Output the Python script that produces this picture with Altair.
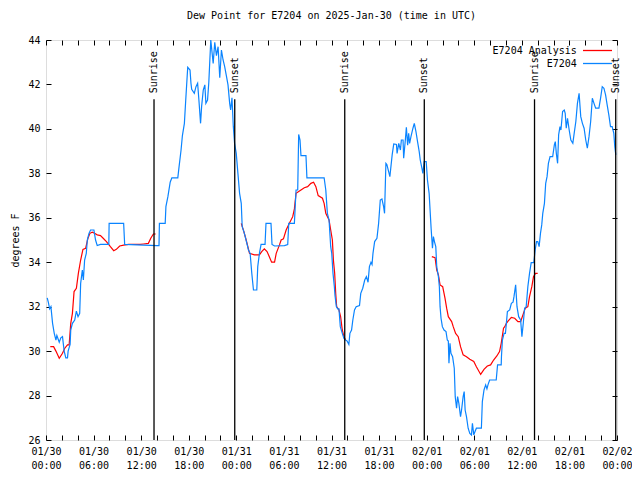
import json
import altair as alt
import pandas as pd

# ---------------- data (hours after 2025-01-30 00:00 UTC, dew point in F) ----------------
blue_hours = [0.15, 0.29, 0.46, 0.62, 0.83, 1.04, 1.25, 1.37, 1.67, 1.87, 2.08, 2.29, 2.5, 2.71, 2.79,
              3.04, 3.12, 3.33, 3.62, 3.83, 4.04, 4.25, 4.37, 4.58, 4.71, 4.87, 5.08, 5.21, 5.42, 5.62,
              6.04, 6.25, 6.46, 6.87, 7.92, 7.96, 9.79, 9.92, 13.96, 14.25, 14.3, 15.03, 15.12, 15.37,
              15.66, 15.87, 16.62, 16.78, 17.03, 17.2, 17.45, 17.62, 17.87, 18.16, 18.28, 18.37, 18.7,
              18.91, 19.12, 19.28, 19.49, 19.62, 19.83, 20.03, 20.16, 20.37, 20.53, 20.66, 20.78, 20.95,
              21.08, 21.28, 21.49, 21.7, 21.91, 22.12, 22.33, 22.53, 22.74, 22.95, 23.16, 23.28, 23.45,
              23.62, 23.78, 23.99, 24.2, 24.41, 24.62, 24.74, 24.95, 25.12, 25.33, 25.53, 25.74, 25.95,
              26.16, 26.58, 26.7, 26.91, 27.12, 27.62, 27.74, 28.37, 28.5, 28.82, 30.07, 30.48, 30.61,
              31.32, 31.53, 31.74, 31.86, 32.03, 32.15, 32.78, 32.9, 35.07, 35.28, 35.48, 35.69, 35.9,
              36.03, 36.19, 36.36, 36.44, 36.61, 36.78, 36.94, 37.11, 37.36, 37.57, 37.78, 37.98, 38.19,
              38.32, 38.53, 38.69, 38.9, 39.11, 39.53, 39.69, 39.94, 40.19, 40.4, 40.61, 40.78, 40.98,
              41.11, 41.23, 41.44, 41.73, 41.94, 42.15, 42.36, 42.57, 42.69, 42.86, 42.98, 43.19, 43.36,
              43.65, 43.85, 44.19, 44.27, 44.48, 44.69, 44.81, 45.02, 45.1, 45.31, 45.44, 45.6, 45.73,
              45.85, 46.02, 46.27, 46.44, 46.65, 46.85, 47.06, 47.19, 47.4, 47.52, 47.69, 47.94, 48.1,
              48.31, 48.44, 48.56, 48.73, 48.85, 48.98, 49.15, 49.27, 49.48, 49.6, 49.69, 49.81, 49.98,
              50.19, 50.44, 50.6, 50.73, 50.81, 50.94, 51.06, 51.27, 51.48, 51.6, 51.77, 51.9, 52.06,
              52.27, 52.4, 52.6, 52.73, 52.85, 53.02, 53.23, 53.44, 53.65, 53.77, 53.94, 54.1, 54.27,
              54.9, 55.02, 55.23, 55.44, 55.6, 55.73, 55.94, 56.77, 56.94, 57.4, 57.43, 57.55, 57.76,
              57.93, 58.05, 58.18, 58.47, 58.68, 58.89, 59.01, 59.22, 59.39, 59.6, 59.85, 60.01, 60.18,
              60.35, 60.55, 60.76, 60.97, 61.18, 61.51, 61.68, 61.85, 62.01, 62.18, 62.35, 62.51, 62.64,
              62.85, 63.01, 63.18, 63.35, 63.56, 63.89, 64.1, 64.22, 64.35, 64.51, 64.64, 64.81, 64.93,
              65.14, 65.35, 65.47, 65.6, 65.76, 65.97, 66.18, 66.43, 66.6, 66.81, 67.01, 67.22, 67.43,
              67.64, 67.85, 68.06, 68.26, 68.47, 68.68, 68.89, 69.1, 69.31, 69.72, 69.93, 70.14, 70.35,
              70.56, 70.76, 70.97, 71.18, 71.39, 71.6, 71.72, 71.85]
blue_dewpt = [32.4, 32.2, 31.9, 32.0, 31.25, 30.8, 30.5, 30.7, 30.4, 30.6, 30.65, 30.0, 29.7, 29.7, 30.0,
              30.3, 30.95, 31.25, 31.4, 31.8, 31.55, 31.7, 33.05, 33.65, 33.2, 34.1, 34.4, 35.0, 35.3, 35.45,
              35.45, 35.0, 34.75, 34.8, 34.8, 35.75, 35.75, 34.8, 34.75, 34.75, 35.75, 35.75, 36.5, 36.95,
              37.6, 37.8, 37.8, 38.3, 39.05, 39.7, 40.25, 41.3, 42.77, 42.65, 42.05, 41.78, 41.6,
              41.9, 42.05, 41.3, 40.25, 41.0, 41.75, 41.98, 41.15, 41.3, 42.1, 43.1, 44.0, 43.4,
              42.95, 43.9, 43.3, 43.7, 42.3, 43.55, 43.1, 42.8, 42.4, 41.98, 41.15, 40.85, 41.4,
              40.1, 39.35, 38.9, 38.0, 37.1, 36.65, 35.6, 35.38, 35.15, 34.85, 34.55, 34.4, 33.5,
              32.75, 32.75, 33.8, 34.4, 34.8, 34.8, 35.75, 35.75, 34.8, 34.73, 34.75, 34.8, 35.75,
              35.75, 37.25, 37.25, 39.75, 39.5, 38.8, 38.8, 37.8, 37.8, 37.25, 36.2, 35.9, 34.7,
              34.4, 33.5, 32.9, 32.5, 32.0, 31.9, 31.9, 31.1, 30.8, 30.57, 30.5, 30.45, 30.3,
              30.8, 30.95, 31.4, 31.85, 32.0, 32.05, 32.6, 32.83, 33.2, 33.35, 33.1, 33.8, 34.0,
              33.9, 34.4, 34.93, 35.08, 35.75, 36.8, 36.85, 36.5, 36.2, 38.45, 38.4, 38.1, 37.85,
              38.83, 39.32, 39.3, 38.9, 39.35, 39.05, 39.5, 39.5, 38.68, 39.5, 40.07, 39.27, 39.8,
              39.35, 39.65, 40.03, 40.25, 39.88, 39.43, 38.98, 38.6, 38.23, 38.0, 38.53, 38.53, 37.7,
              37.1, 36.28, 35.53, 34.63, 35.15, 34.93, 34.7, 33.8, 33.35, 32.9, 32.0, 31.48, 31.1,
              30.95, 30.88, 30.5, 30.45, 29.45, 30.35, 29.9, 29.75, 29.23, 27.95, 27.43, 27.95, 27.65,
              27.05, 27.35, 27.95, 28.18, 27.35, 27.05, 26.53, 26.3, 26.23, 26.75, 26.23, 26.38, 26.53,
              26.53, 27.73, 28.25, 28.48, 28.3, 28.48, 28.7, 28.7, 29.38, 29.38, 29.75, 30.5, 30.8,
              30.8, 31.25, 31.78, 31.85, 32.15, 32.2, 32.45, 32.98, 32.0, 31.55, 31.4, 30.65, 31.25,
              31.93, 32.0, 32.9, 33.5, 33.98, 33.98, 34.55, 34.93, 34.93, 34.7, 35.3, 35.68, 36.2,
              36.65, 37.55, 37.85, 38.45, 38.75, 38.75, 39.28, 39.43, 38.9, 38.45, 39.73, 40.1, 39.95,
              40.78, 40.85, 40.7, 40.03, 40.48, 39.95, 39.5, 39.35, 39.8, 40.33, 41.15, 41.6, 40.55,
              40.25, 40.03, 39.5, 39.13, 39.65, 40.33, 41.38, 41.15, 40.93, 40.93, 41.38, 41.9, 41.83,
              41.53, 41.08, 40.63, 40.1, 40.1, 39.8, 39.2, 38.83]

red_hours = [0.54, 0.96, 1.25, 1.67, 2.08, 2.37, 2.71, 2.92, 3.12, 3.33, 3.54, 3.83, 4.08, 4.37, 4.66,
             5.0, 5.29, 5.54, 5.83, 6.12, 6.46, 6.87, 7.21, 7.62, 8.12, 8.54, 8.87, 9.29, 9.79, 10.42,
             11.04, 11.87, 12.29, 12.91, 13.21, 13.54, 13.83,
             24.62, 24.95, 25.24, 25.45, 25.66, 26.28, 26.91, 27.2, 27.53, 27.87, 28.16, 28.45, 28.82,
             29.03, 29.44, 29.65, 29.94, 30.28, 30.69, 31.11, 31.32, 31.53, 32.15, 32.57, 32.99, 33.4,
             33.74, 34.03, 34.32, 34.86, 35.07, 35.28, 35.69, 35.9, 36.11, 36.24, 36.4, 36.53, 36.65,
             36.94, 37.15, 37.36, 37.57, 37.78,
             48.65, 49.06, 49.27, 49.48, 49.69, 50.02, 50.31, 50.52, 50.73, 51.15, 51.35, 51.65, 51.98,
             52.27, 52.6, 53.02, 53.44, 53.94, 54.27, 54.81, 55.23, 55.65, 56.06, 56.44, 56.85, 57.19,
             57.4, 57.69, 57.85, 58.05, 58.26, 58.68, 59.1, 59.51, 59.85, 60.14, 60.43, 60.76, 60.97,
             61.26, 61.47, 61.72, 62.0]
red_dewpt = [30.2, 30.2, 30.0, 29.68, 29.9, 30.13, 30.28, 30.28, 31.25, 31.7, 32.68, 32.83, 33.5, 34.1, 34.58,
             34.63, 35.08, 35.3, 35.35, 35.3, 35.23, 35.2, 35.08, 34.93, 34.7, 34.52, 34.58, 34.73, 34.77, 34.8,
             34.8, 34.8, 34.82, 34.85, 35.08, 35.27, 35.27,
             35.75, 35.38, 35.0, 34.7, 34.4, 34.33, 34.33, 34.48, 34.6, 34.48, 34.25, 34.0, 34.0,
             34.4, 34.78, 35.0, 35.05, 35.45, 35.75, 36.05, 36.4, 37.1, 37.25, 37.35, 37.4, 37.55,
             37.6, 37.4, 37.0, 36.88, 36.65, 36.2, 35.9, 35.45, 35.0, 34.1, 33.5, 32.6, 32.0,
             31.85, 31.55, 30.95, 30.65, 30.5,
             34.25, 34.2, 33.65, 33.43, 32.98, 32.9, 32.38, 31.93, 31.55, 31.33, 31.1, 30.8, 30.65,
             30.2, 29.83, 29.75, 29.63, 29.53, 29.3, 28.95, 29.18, 29.33, 29.38, 29.6, 29.78, 29.98,
             30.35, 31.03, 31.1, 31.25, 31.35, 31.52, 31.48, 31.33, 31.33, 31.63, 31.93, 32.0, 32.45,
             32.9, 33.35, 33.5, 33.5]

sun_hours = [13.62, 23.8, 37.67, 47.7, 61.6, 71.84]
sun_labels = ["Sunrise", "Sunset", "Sunrise", "Sunset", "Sunrise", "Sunset"]
day_labels = ["01/30", "01/31", "02/01", "02/02"]
series_names = ["E7204 Analysis", "E7204"]
series_colors = ["#ff0000", "#0a84ff"]
x_ticks = list(range(0, 73, 2))
y_ticks = list(range(26, 45, 2))
Y_MIN, Y_MAX = 26, 44
RULE_TOP = 41.33
LABEL_Y = 41.6

FONT = "DejaVu Sans Mono"
# trailing non-breaking spaces (kept from trimming by a zero-width char) put the label left of its line
LABEL_PAD = "\u00a0" * 6 + "\u200b"

# ---------------- frames ----------------
blue_df = pd.DataFrame({"h": blue_hours, "v": blue_dewpt})
blue_df["series"] = series_names[1]
blue_df["seg"] = 0

red_df = pd.DataFrame({"h": red_hours, "v": red_dewpt})
red_df["series"] = series_names[0]
red_df["seg"] = (red_df["h"].diff().fillna(0) > 3).cumsum()

sun_df = pd.DataFrame({"h": sun_hours, "label": sun_labels})
sun_df["y0"] = Y_MIN
sun_df["y1"] = RULE_TOP
sun_df["ly"] = LABEL_Y

xs = alt.Scale(domain=[0, 72], nice=False, zero=False)
ys = alt.Scale(domain=[Y_MIN, Y_MAX], nice=False, zero=False)
cs = alt.Scale(domain=series_names, range=series_colors)

label_expr = ("datum.value % 6 == 0 ? [" + json.dumps(day_labels) + "[floor(datum.value / 24)], "
              "(datum.value % 24 < 10 ? '0' : '') + (datum.value % 24) + ':00'] : ''")

bottom_axis = alt.Axis(values=x_ticks, tickSize=5, offset=-5, domain=False, grid=False,
                       labelExpr=label_expr, labelPadding=6, labelFont=FONT, labelFontSize=10,
                       labelColor="black", tickColor="black", title=None, labelOverlap=False,
                       labelFlush=False, labelLineHeight=14, labelAngle=0)
left_axis = alt.Axis(values=y_ticks, tickSize=5, offset=-5, domain=False, grid=False,
                     labelPadding=6, labelFont=FONT, labelFontSize=10, labelColor="black",
                     tickColor="black", labelFlush=False, labelOverlap=False,
                     title="degrees F", titleFont=FONT, titleFontSize=10,
                     titleFontWeight="normal", titleColor="black", titlePadding=7)
top_axis = alt.Axis(orient="top", values=x_ticks, tickSize=5, offset=-5, domain=False, grid=False,
                    labels=False, title=None, tickColor="black")
right_axis = alt.Axis(orient="right", values=y_ticks, tickSize=5, offset=-5, domain=False, grid=False,
                      labels=False, title=None, tickColor="black")

legend = alt.Legend(title=None, orient="none", legendX=536, legendY=4, symbolType="stroke",
                    symbolSize=841, symbolStrokeWidth=1.3, symbolOffset=0, labelAlign="right",
                    labelOffset=0, labelExpr="datum.label + '" + LABEL_PAD + "'",
                    labelFont=FONT, labelFontSize=10, labelColor="black",
                    padding=0, rowPadding=0, clipHeight=13)

red = alt.Chart(red_df).mark_line(strokeWidth=1.2).encode(
    x=alt.X("h:Q", scale=xs, axis=bottom_axis),
    y=alt.Y("v:Q", scale=ys, axis=left_axis),
    color=alt.Color("series:N", scale=cs, legend=legend),
    detail="seg:N",
)
blue = alt.Chart(blue_df).mark_line(strokeWidth=1.2).encode(
    x=alt.X("h:Q", scale=xs, axis=None),
    y=alt.Y("v:Q", scale=ys, axis=None),
    color=alt.Color("series:N", scale=cs, legend=legend),
    detail="seg:N",
)
rules = alt.Chart(sun_df).mark_rule(color="black", strokeWidth=1.3).encode(
    x=alt.X("h:Q", scale=xs, axis=None),
    y=alt.Y("y0:Q", scale=ys, axis=None),
    y2="y1:Q",
)
texts = alt.Chart(sun_df).mark_text(angle=270, align="left", baseline="middle", font=FONT,
                                    fontSize=10, color="black").encode(
    x=alt.X("h:Q", scale=xs, axis=None),
    y=alt.Y("ly:Q", scale=ys, axis=None),
    text="label:N",
)
mirror = alt.Chart(blue_df).mark_line(strokeOpacity=0).encode(
    x=alt.X("h:Q", scale=xs, axis=top_axis),
    y=alt.Y("v:Q", scale=ys, axis=right_axis),
)

chart = alt.layer(red, blue, rules, texts, mirror).resolve_axis(
    x="independent", y="independent"
).properties(
    width=571, height=400,
    autosize=alt.AutoSizeParams(type="none"),
    padding={"left": 38, "top": 32, "right": 15, "bottom": 30},
    title=alt.TitleParams("Dew Point for E7204 on 2025-Jan-30 (time in UTC)", font=FONT, fontSize=10,
                          fontWeight="normal", color="black", anchor="middle", frame="group", offset=14),
).configure_view(stroke="black", strokeWidth=1).configure(background="white")

chart.save("out.html", embed_options={"renderer": "svg", "actions": False})
